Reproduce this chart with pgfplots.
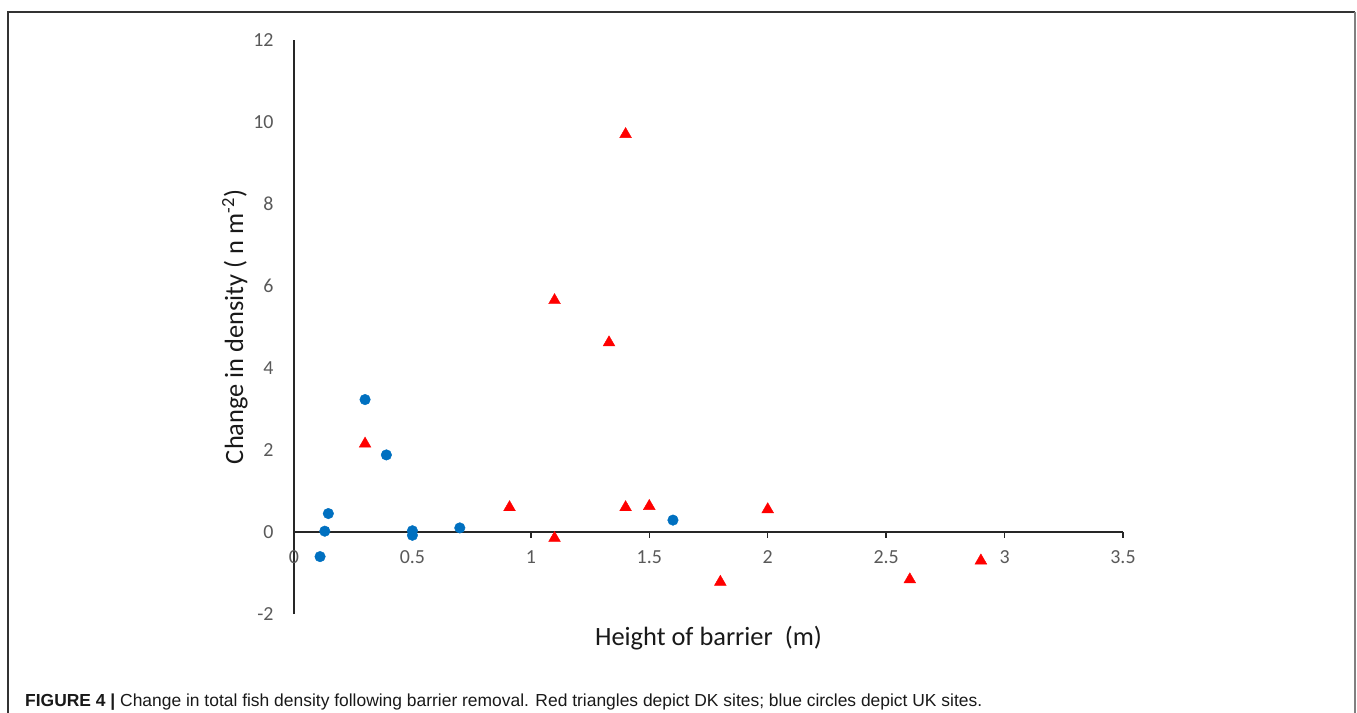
\documentclass[border=0pt]{standalone}
\usepackage{fontspec}
\setmainfont{Carlito}
\newfontfamily\capfont{Liberation Sans}
\usepackage{pgfplots}
\usepackage{pgfplotstable}
\pgfplotsset{compat=1.18}

\definecolor{ukblue}{HTML}{0070C0}
\definecolor{dkred}{HTML}{FF0000}
\definecolor{tickgray}{HTML}{595959}
\definecolor{axisline}{HTML}{262626}

% UK sites (blue circles)
\pgfplotstableread{
x     y
0.11  -0.60
0.13   0.02
0.145  0.45
0.30   3.23
0.39   1.88
0.50   0.03
0.50  -0.08
0.70   0.10
1.60   0.29
}\uksites

% DK sites (red triangles)
\pgfplotstableread{
x     y
0.30   2.15
0.91   0.60
1.10  -0.15
1.10   5.65
1.33   4.62
1.40   9.70
1.40   0.60
1.50   0.63
1.80  -1.22
2.00   0.55
2.60  -1.16
2.90  -0.70
}\dksites

\begin{document}
\begin{tikzpicture}
\useasboundingbox (-294bp,-99bp) rectangle (1063bp,614bp);
\draw[line width=1.5bp, color=black!80] (-286bp,-110bp) -- (-286bp,602bp) -- (1061bp,602bp);
\draw[line width=2bp, color=black!50] (1061bp,602bp) -- (1061bp,-110bp);

\begin{axis}[
    at={(0,0)}, anchor=south west,
    scale only axis, width=829bp, height=574bp,
    xmin=0, xmax=3.5, ymin=-2, ymax=12,
    axis x line*=middle, axis y line*=left,
    axis line style={color=axisline, line width=1.3bp},
    xtick={0,0.5,1,1.5,2,2.5,3,3.5},
    ytick={-2,0,2,4,6,8,10,12},
    hide obscured x ticks=false,
    hide obscured y ticks=false,
    tick align=outside,
    major tick length=6bp,
    xtick style={color=axisline, line width=1.3bp},
    ytick style={draw=none},
    /pgf/number format/assume math mode=true,
    ticklabel style={font=\fontsize{20}{22}\selectfont, color=tickgray},
    xticklabel style={yshift=-9bp},
    yticklabel style={xshift=-11bp},
    clip=false,
    every axis x label/.style={at={(axis description cs:0.5,0)}, anchor=base, yshift=-31bp,
        font=\fontsize{26.5}{30}\selectfont, color=black!90},
    every axis y label/.style={at={(axis description cs:-0.0712,0.5)}, rotate=90, anchor=center,
        font=\fontsize{26.5}{30}\selectfont, color=black!90},
    xlabel={Height of barrier\ \ (m)},
    ylabel={Change in density ( n m\textsuperscript{-2})},
]
\addplot[only marks, mark=*, mark size=5.3bp, color=ukblue] table[x=x, y=y] {\uksites};
\addplot[only marks, mark=triangle*, mark size=6.8bp, color=dkred] table[x=x, y=y] {\dksites};
\end{axis}

\node[anchor=base west, inner sep=0pt, color=black!90, font=\capfont\fontsize{17.5}{20}\selectfont]
  at (-269bp,-92bp) {\textbf{FIGURE 4 |} Change in total fish density following barrier removal. Red triangles depict DK sites; blue circles depict UK sites.};
\end{tikzpicture}
\end{document}
